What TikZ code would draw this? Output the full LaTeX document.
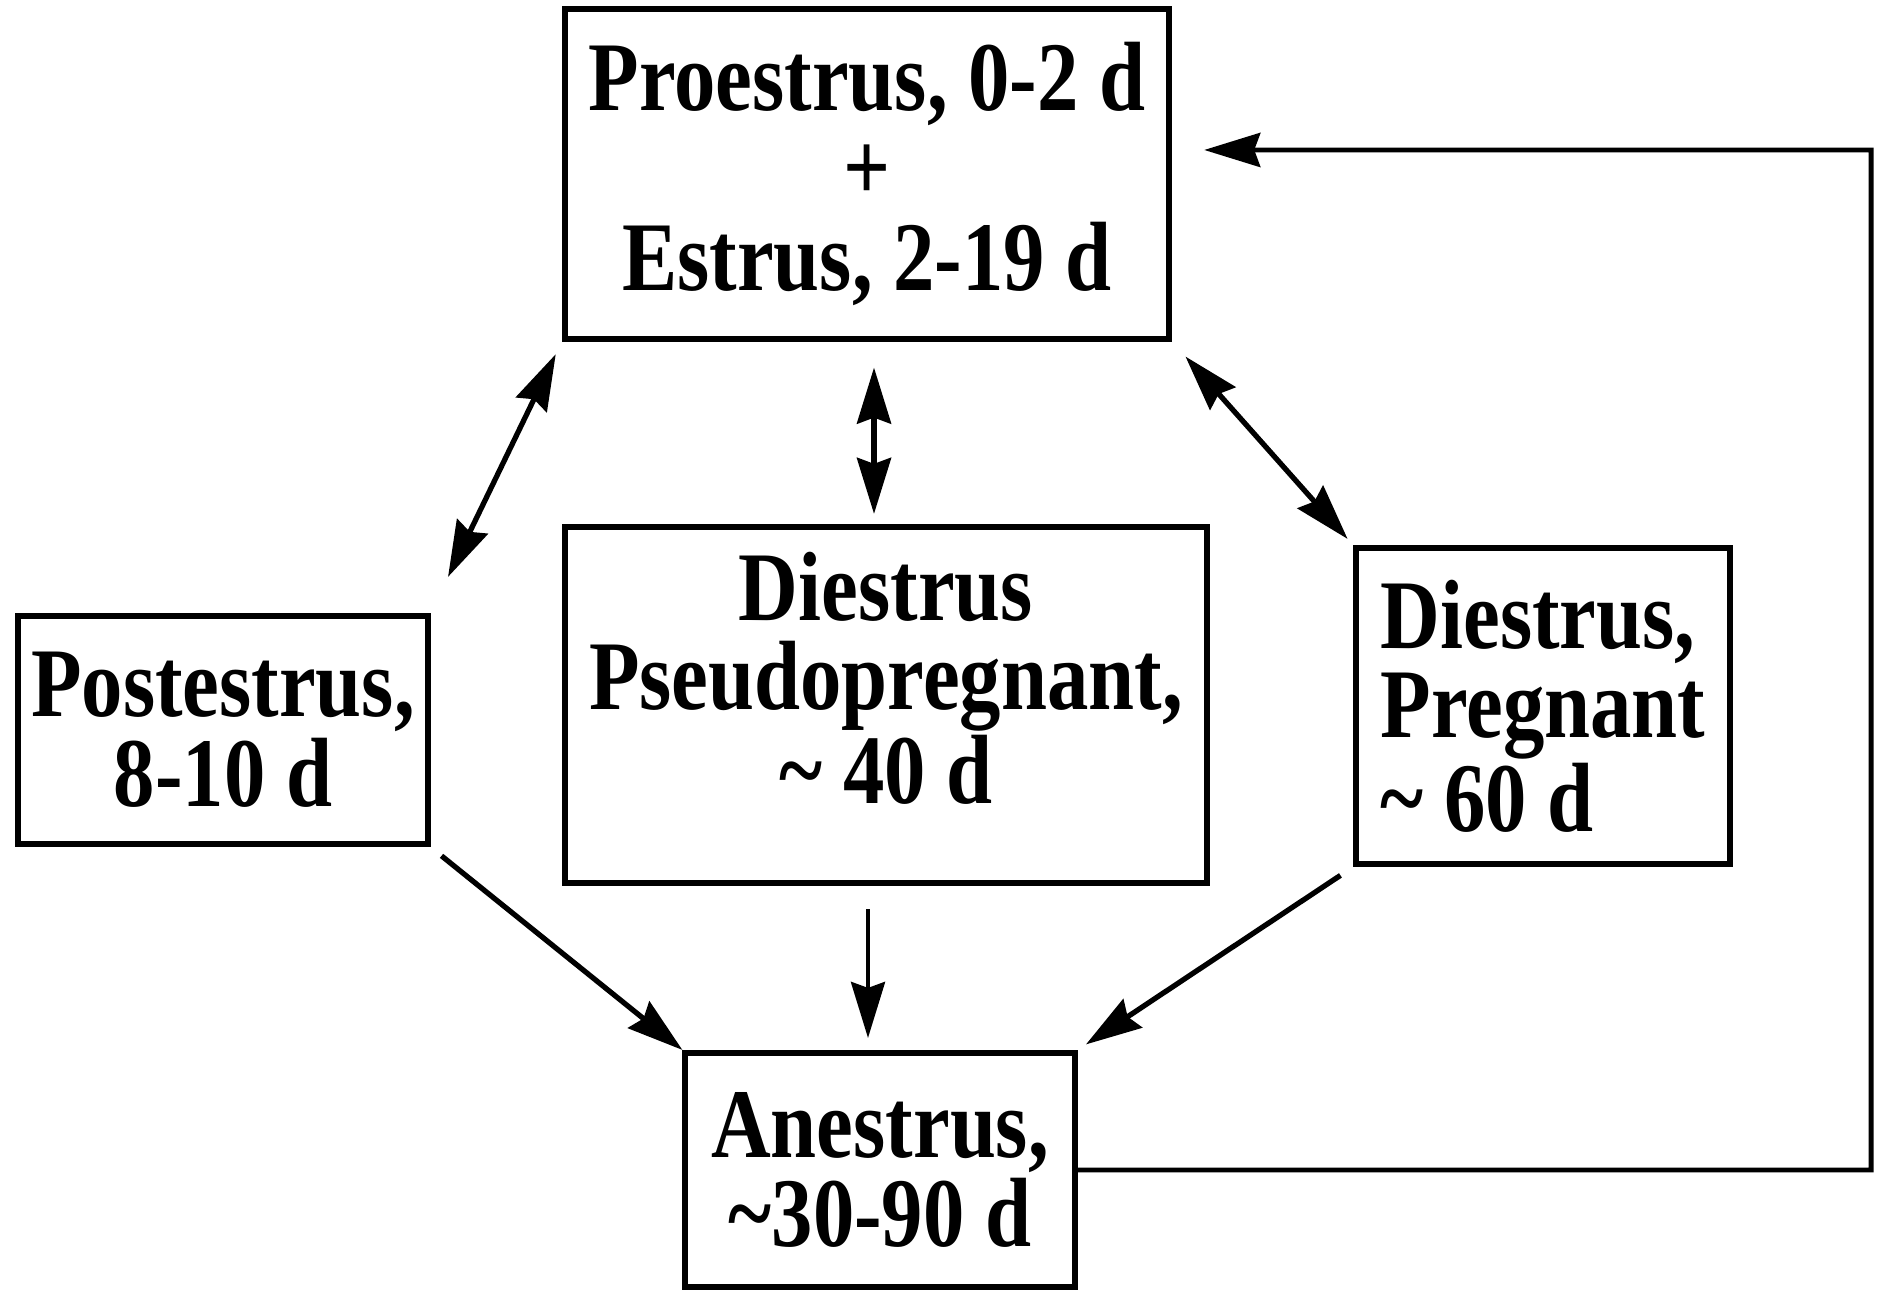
\documentclass[tikz,border=0pt]{standalone}
\usepackage{fontspec}
\newfontfamily\phasefont{Liberation Serif}[FakeStretch=0.84]
\usetikzlibrary{arrows.meta}

\begin{document}
\begin{tikzpicture}[x=0.01cm, y=-0.01cm]

% Define styles for the cycle
\tikzstyle{phase} = [rectangle, draw=black, line width=1.7pt, align=center, inner sep=0pt, font=\phasefont\bfseries\fontsize{28}{25.5}\selectfont]
\tikzstyle{arrow} = [line width=1.5pt, -{Stealth[length=0.56cm, width=0.34cm, inset=0.06cm]}]
\tikzstyle{twoway} = [line width=1.5pt, {Stealth[length=0.56cm, width=0.34cm, inset=0.06cm]}-{Stealth[length=0.56cm, width=0.34cm, inset=0.06cm]}]

\useasboundingbox (0,0) rectangle (1877,1295);

% Nodes
\node (proestrus) [phase, minimum width=6.04cm, minimum height=3.29cm] at (867,174) {Proestrus, 0-2 d\\+\\Estrus, 2-19 d};
\node (postestrus) [phase, minimum width=4.09cm, minimum height=2.28cm] at (223,730) {Postestrus,\\8-10 d};
\node (pseudo) [phase, text depth=0.55cm, minimum width=6.42cm, minimum height=3.56cm] at (886,705) {Diestrus\\Pseudopregnant,\\\textasciitilde\ 40 d};
\node (pregnant) [phase, align=left, minimum width=3.74cm, minimum height=3.16cm] at (1543,706) {Diestrus,\\Pregnant\\\textasciitilde\ 60 d};
\node (anestrus) [phase, minimum width=3.89cm, minimum height=2.34cm] at (880,1170) {Anestrus,\\\textasciitilde30-90 d};
\coordinate (back) at (1871,150);

% Arrows
\draw [twoway, shorten <=0.14cm, shorten >=0.4cm] (proestrus.south west) -- (postestrus.north east);
\draw [twoway, shorten <=0.26cm, shorten >=0.1cm] ([xshift=0.07cm]proestrus.south) -- ([xshift=0.07cm]proestrus.south |- pseudo.north);
\draw [twoway, shorten <=0.2cm, shorten >=0.08cm] (proestrus.south east) -- (pregnant.north west);
\draw [arrow, shorten <=0.14cm] (postestrus.south east) -- (anestrus.north west);
\draw [arrow, line width=1.1pt, shorten <=0.23cm, shorten >=0.12cm] ([xshift=-0.18cm]pseudo.south) -- ([xshift=-0.18cm]pseudo.south |- anestrus.north);
\draw [arrow, shorten <=0.15cm, shorten >=0.1cm] (pregnant.south west) -- (anestrus.north east);
\draw [arrow, line width=1.4pt, shorten >=0.32cm] (anestrus.east) -| (back) -- ([yshift=0.24cm]proestrus.east);

\end{tikzpicture}
\end{document}
